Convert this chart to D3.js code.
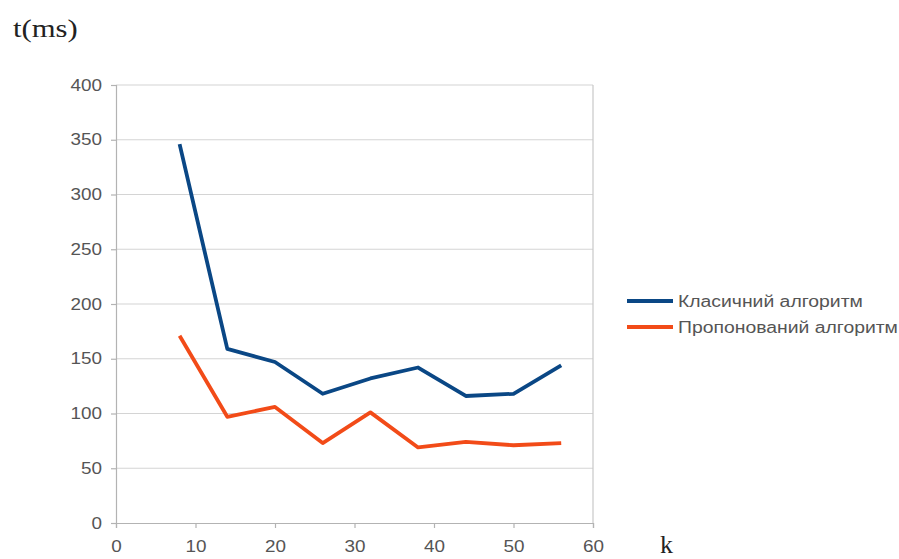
<!DOCTYPE html>
<html><head><meta charset="utf-8">
<script src="https://cdnjs.cloudflare.com/ajax/libs/d3/7.8.5/d3.min.js"></script>
<style>body{margin:0;background:#fff}</style>
</head><body><svg id="c" width="899" height="559"></svg>
<script>
const kValues = [8, 14, 20, 26, 32, 38, 44, 50, 56];
const classic = [346, 159, 147, 118, 132, 142, 116, 118, 144];
const proposed = [171, 97, 106, 73, 101, 69, 74, 71, 73];
const seriesNames = ["Класичний алгоритм", "Пропонований алгоритм"];
const seriesColors = ["#0a4785", "#f24b18"];
const xTicks = [0, 10, 20, 30, 40, 50, 60];
const yTicks = [0, 50, 100, 150, 200, 250, 300, 350, 400];

const svg = d3.select("#c");
const x = d3.scaleLinear().domain([0, 60]).range([116, 593]);
const y = d3.scaleLinear().domain([0, 400]).range([523, 85]);
const SANS = "Liberation Sans, Arial, sans-serif";
const SERIF = "Liberation Serif, Times New Roman, serif";

svg.append("g").selectAll("line").data(yTicks.filter(d => d > 0)).join("line")
  .attr("x1", x(0)).attr("x2", x(60)).attr("y1", d => y(d)).attr("y2", d => y(d))
  .attr("stroke", "#d4d4d4").attr("stroke-width", 1.2);
svg.append("line").attr("x1", x(60)).attr("x2", x(60)).attr("y1", y(400)).attr("y2", y(0))
  .attr("stroke", "#c8c8c8").attr("stroke-width", 1.2);

const yAxis = svg.append("g").attr("transform", `translate(${x(0)},0)`)
  .call(d3.axisLeft(y).tickValues(yTicks).tickSize(5).tickPadding(9));
const xAxis = svg.append("g").attr("transform", `translate(0,${y(0)})`)
  .call(d3.axisBottom(x).tickValues(xTicks).tickSize(5).tickPadding(13));
[yAxis, xAxis].forEach(a => {
  a.selectAll("path,line").attr("stroke", "#b3b3b3").attr("stroke-width", 1.2);
  a.selectAll("text").attr("fill", "#555").attr("font-family", SANS).attr("font-size", 16)
    .attr("data-stretch", 1.18);
});

const line = d3.line().x((d, i) => x(kValues[i])).y(d => y(d));
[classic, proposed].forEach((s, i) => {
  svg.append("path").datum(s).attr("d", line).attr("fill", "none")
    .attr("stroke", seriesColors[i]).attr("stroke-width", 3.8).attr("stroke-linejoin", "round");
});

const leg = svg.append("g");
seriesNames.forEach((n, i) => {
  const yy = 301 + i * 26;
  leg.append("line").attr("x1", 627).attr("x2", 673).attr("y1", yy).attr("y2", yy)
    .attr("stroke", seriesColors[i]).attr("stroke-width", 4);
  leg.append("text").attr("x", 678).attr("y", yy + 6).text(n).attr("data-stretch", 1.21)
    .attr("fill", "#555").attr("font-family", SANS).attr("font-size", 16);
});

svg.append("text").attr("x", 13).attr("y", 37).text("t(ms)").attr("data-stretch", 1.18)
  .attr("font-family", SERIF).attr("font-size", 26).attr("fill", "#222");
svg.append("text").attr("x", 660).attr("y", 553).text("k")
  .attr("font-family", SERIF).attr("font-size", 26).attr("fill", "#222");

svg.selectAll("text[data-stretch]").each(function() {
  const w = this.getComputedTextLength();
  const f = +this.getAttribute("data-stretch");
  d3.select(this).attr("textLength", w * f).attr("lengthAdjust", "spacingAndGlyphs");
});
</script>
</body></html>
